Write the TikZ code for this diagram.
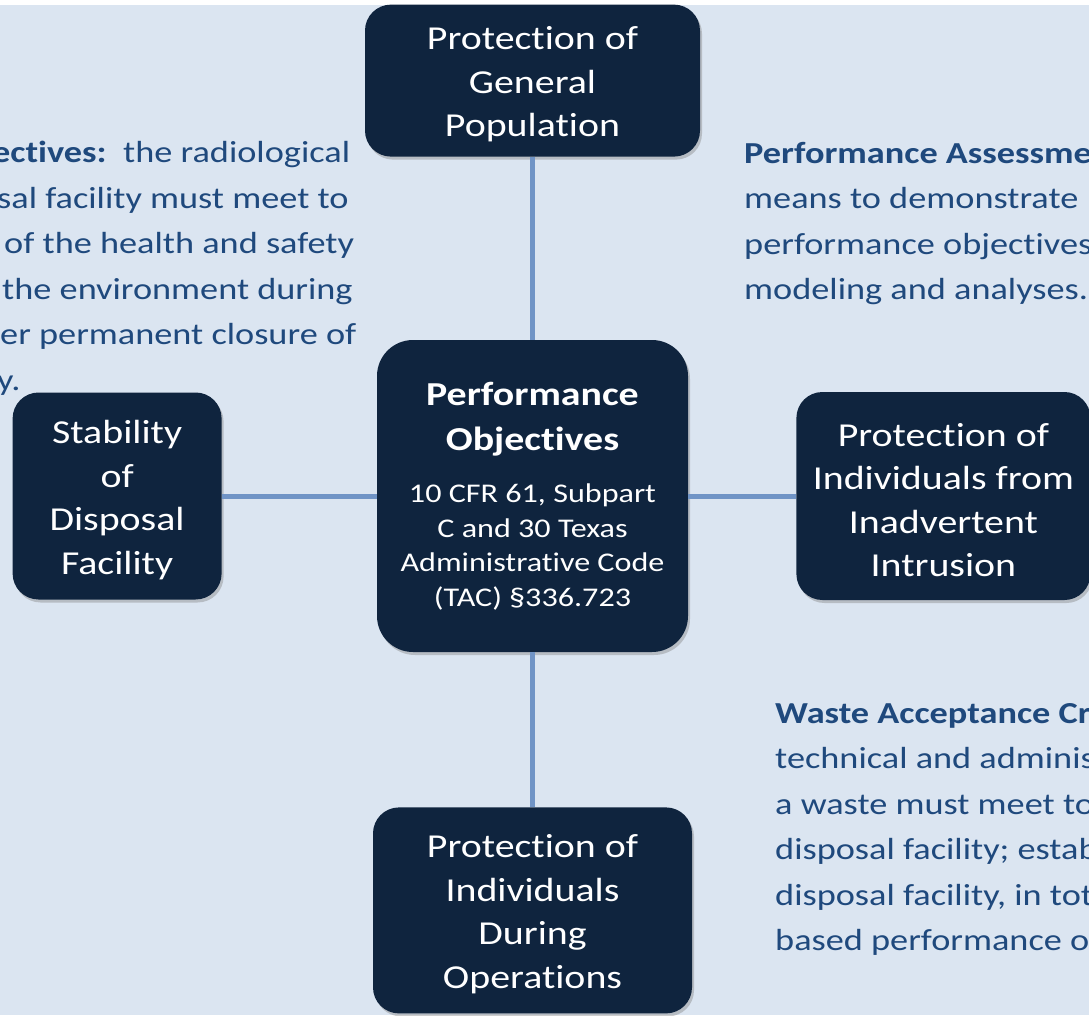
\documentclass[tikz,border=0pt]{standalone}
\usepackage{fontspec}
\setmainfont{Carlito}[FakeStretch=1.19,Ligatures=NoCommon]
\usepackage{tikz}
\usetikzlibrary{positioning,shadows}
\definecolor{pagebg}{HTML}{DBE5F1}
\definecolor{navy}{HTML}{0F243E}
\definecolor{notetext}{HTML}{1F497D}
\definecolor{linkblue}{HTML}{7094C6}
\tikzstyle{block} = [rectangle,rounded corners=26pt,fill=navy,text=white,align=center,inner sep=0pt,font=\fontsize{33.5}{43.5}\selectfont,drop shadow={shadow xshift=2pt,shadow yshift=-3pt,opacity=.4}]
\tikzstyle{note} = [text=notetext,align=left,inner sep=0pt,font=\fontsize{30.5}{45.5}\selectfont]
\tikzstyle{link} = [line width=5pt,draw=linkblue]
% a taller first line pushes the box text a little down
\newcommand{\toppad}{\rule{0pt}{31pt}}

\begin{document}
\begin{tikzpicture}[x=1pt,y=-1pt]
        \useasboundingbox (0,0) rectangle (1089,1015);
        \fill[white] (0,0) rectangle (1089,5);
        \fill[pagebg] (0,5) rectangle (1089,1015);
        % the objectives in the middle, the four of them around it
        \node[block,minimum width=311pt,minimum height=312pt,rounded corners=36pt,font=\fontsize{27}{34.5}\selectfont] (core) at (532.5,496)
            {{\fontsize{33.5}{45}\selectfont\bfseries Performance}\\[10pt]{\fontsize{33.5}{45}\selectfont\bfseries Objectives}\\[18pt]10 CFR 61, Subpart\\C and 30 Texas\\Administrative Code\\(TAC) §336.723};
        \node[block,minimum width=335pt,minimum height=152pt,above=183pt of core] (popn) {\toppad Protection of\\General\\Population};
        \node[block,minimum width=209pt,minimum height=207pt,left=155pt of core] (stab) {\toppad Stability\\of\\Disposal\\Facility};
        \node[block,minimum width=294pt,minimum height=208pt,right=108pt of core] (intr) {\toppad Protection of\\Individuals from\\Inadvertent\\Intrusion};
        \node[block,minimum width=319pt,minimum height=206pt,below=155pt of core] (oper) {\toppad Protection of\\Individuals\\During\\Operations};
        \draw[link] (popn) -- (core);
        \draw[link] (stab) -- (core);
        \draw[link] (core) -- (intr);
        \draw[link] (core) -- (oper);
        % side notes, running off the page
        \node[note,anchor=north west] (objnote) at (-3,141)
            {\hspace*{-5pt}\textbf{ectives:}\ \ the radiological\\sal facility must meet to\\\hspace*{7pt}of the health and safety\\\hspace*{5pt}the environment during\\\hspace*{3pt}er permanent closure of\\y.};
        \node[note,anchor=north west] (panote) at (744,142)
            {\textbf{Performance Assessme}\\means to demonstrate\\performance objectives\\modeling and analyses.};
        \node[note,anchor=north west] (wacnote) at (775,703)
            {\textbf{Waste Acceptance Cr}\\technical and adminis\\a waste must meet to\\disposal facility; estab\\disposal facility, in tot\\based performance o};
    \end{tikzpicture}
\end{document}
